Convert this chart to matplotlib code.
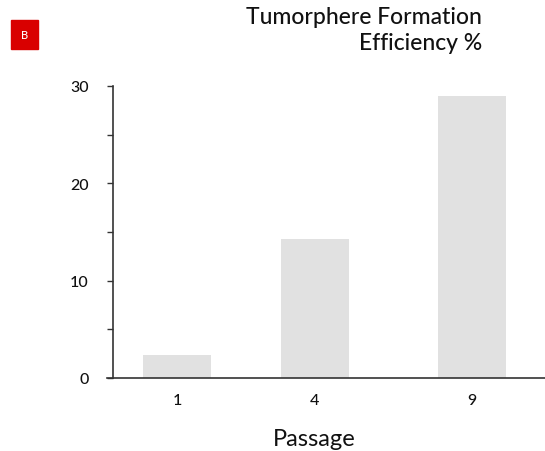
import matplotlib.pyplot as plt
from matplotlib.patches import Rectangle

# Datos del grafico
pasajes = ["1", "4", "9"]
eficiencia = [2.4, 14.3, 29.0]
posiciones = [0, 1, 2.138]

plt.rcParams['font.family'] = ['Lato', 'DejaVu Sans']
plt.rcParams['font.weight'] = 'medium'

color_texto = "#111111"
color_eje = "#333333"

fig = plt.figure(figsize=(5.45, 4.52), dpi=100)
ax = fig.add_axes([107 / 545, 73 / 452, 438 / 545, 292 / 452])

ax.bar(posiciones, eficiencia, width=0.493, color="#e1e1e1")

ax.set_xlim(-0.507, 2.667)
ax.set_ylim(0, 30)

# Ejes
for lado in ["top", "right"]:
    ax.spines[lado].set_visible(False)
ax.spines["left"].set_position(("axes", 5.5 / 438))
ax.spines["left"].set_color(color_eje)
ax.spines["bottom"].set_color(color_eje)
ax.spines["left"].set_linewidth(1.2)
ax.spines["bottom"].set_linewidth(1.2)

ax.set_yticks([0, 10, 20, 30])
ax.set_yticks([5, 15, 25], minor=True)
ax.tick_params(axis="y", which="both", direction="out", length=4, width=1,
               color=color_eje, labelsize=11.5, labelcolor=color_texto, pad=13)

ax.set_xticks(posiciones)
ax.set_xticklabels(pasajes)
ax.tick_params(axis="x", length=0, labelsize=11.5, labelcolor=color_texto, pad=11)

ax.set_xlabel("Passage", fontsize=17, color=color_texto)
ax.xaxis.set_label_coords((314 - 107) / 438, -50 / 292)

# Titulo
fig.text(482 / 545, 1 - 7 / 452, "Tumorphere Formation\nEfficiency %",
         ha="right", va="top", fontsize=16.5, color=color_texto,
         multialignment="right", linespacing=1.3)

# Etiqueta del panel
fig.patches.append(Rectangle((11 / 545, 1 - 50 / 452), 27 / 545, 29 / 452,
                             transform=fig.transFigure, color="#d90000"))
fig.text(24.5 / 545, 1 - 35.5 / 452, "B", ha="center", va="center",
         fontsize=8, color="white")

plt.savefig("out.png", dpi=100)
